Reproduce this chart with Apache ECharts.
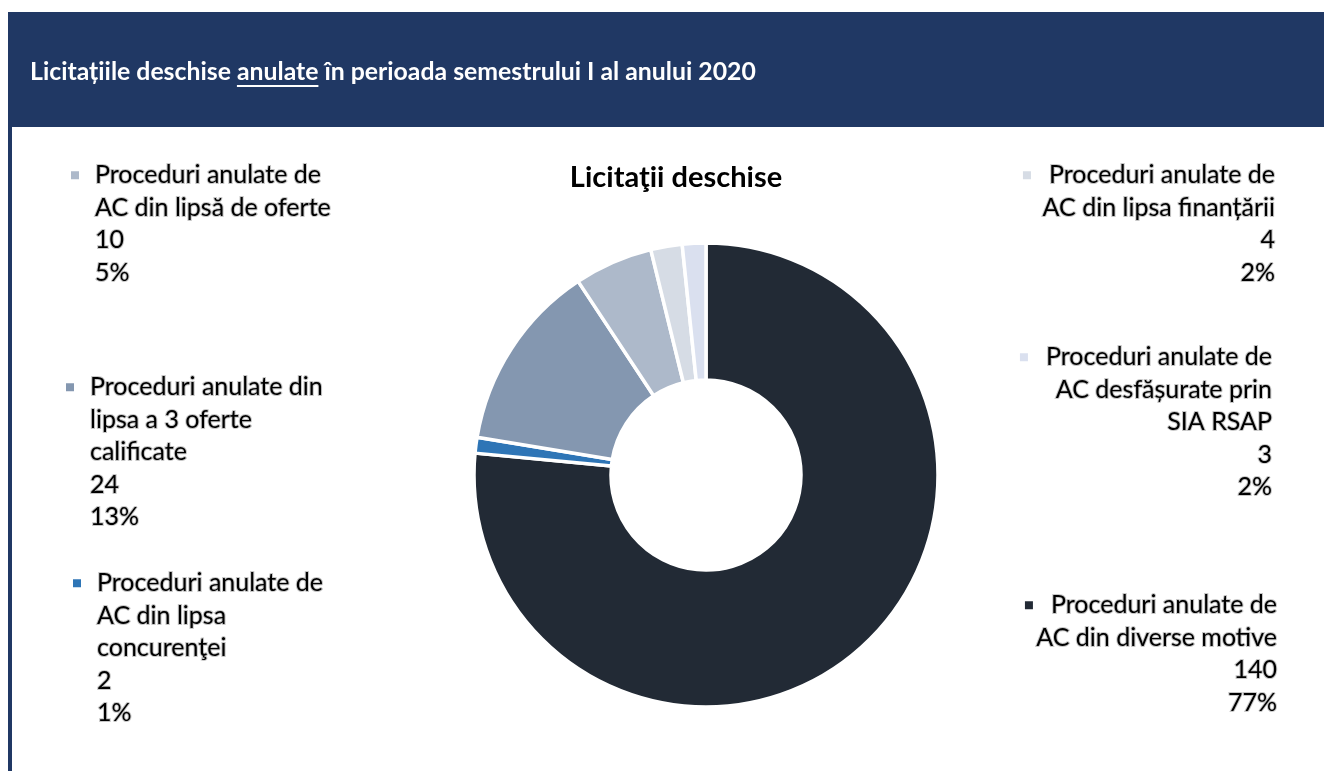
<!DOCTYPE html>
<html>
<head>
<meta charset="utf-8">
<script src="https://cdn.jsdelivr.net/npm/echarts@6/dist/echarts.min.js"></script>
<style>
html,body{margin:0;padding:0;background:#fff;}
#main{width:1324px;height:771px;}
</style>
</head>
<body>
<div id="main"></div>
<script>
// ---- data ----
var headerParts = ['Licitațiile deschise ', 'anulate', ' în perioada semestrului I al anului 2020'];
var chartTitle = 'Licitaţii deschise';
var categories = [
  'Proceduri anulate de\nAC din diverse motive',
  'Proceduri anulate de\nAC din lipsa\nconcurenţei',
  'Proceduri anulate din\nlipsa a 3 oferte\ncalificate',
  'Proceduri anulate de\nAC din lipsă de oferte',
  'Proceduri anulate de\nAC din lipsa finanțării',
  'Proceduri anulate de\nAC desfășurate prin\nSIA RSAP'
];
var values = [140, 2, 24, 10, 4, 3];
var colors = ['#222a35', '#2e75b6', '#8497b0', '#adb9ca', '#d6dce5', '#dae0ef'];

// ---- layout (label positions) ----
var labelPos = [
  {x: 1277, y: 589, side: 'right'},
  {x: 73,   y: 567, side: 'left'},
  {x: 66,   y: 371, side: 'left'},
  {x: 71,   y: 159, side: 'left'},
  {x: 1275, y: 159, side: 'right'},
  {x: 1272, y: 341, side: 'right'}
];

var FONT = 'Lato';
var LABEL_SIZE = 25;
var LH = 32.5;
var total = values.reduce(function(a, b){ return a + b; }, 0);

var chart = echarts.init(document.getElementById('main'));

var halo = {textBorderColor: 'rgba(180,180,180,0.75)', textBorderWidth: 2};

function richFor(i) {
  var base = {fontFamily: FONT, fontSize: LABEL_SIZE, color: '#000', lineHeight: LH};
  Object.assign(base, halo);
  var r = {};
  r.sq = {width: 8, height: 8, backgroundColor: colors[i], align: 'left', verticalAlign: 'middle', lineHeight: LH};
  if (labelPos[i].side === 'left') {
    r.f = Object.assign({}, base, {padding: [0, 0, 0, 16], align: 'left'});
    r.t = Object.assign({}, base, {padding: [0, 0, 0, 24], align: 'left'});
  } else {
    r.f = Object.assign({}, base, {padding: [0, 0, 0, 18], align: 'right'});
    r.t = Object.assign({}, base, {align: 'right'});
  }
  return r;
}

var data = values.map(function(v, i) {
  return {
    name: categories[i],
    value: v,
    itemStyle: {color: colors[i]},
    label: {rich: richFor(i)}
  };
});

// measure header for underline
var hdrFont = 'bold 24.8px ' + FONT;
var mctx = document.createElement('canvas').getContext('2d');

function buildOption() {
  mctx.font = hdrFont;
  var w0 = mctx.measureText(headerParts[0]).width;
  var w1 = mctx.measureText(headerParts[1]).width;
  var hx = 30, hy = 72;
  return {
    backgroundColor: '#fff',
    title: {
      text: chartTitle,
      left: 671, top: 158, textAlign: 'center',
      textStyle: {fontFamily: FONT, fontSize: 29, fontWeight: 'bold', color: '#000'}
    },
    graphic: [
      {type: 'rect', shape: {x: 8, y: 12, width: 1316, height: 115}, style: {fill: '#203864'}, silent: true},
      {type: 'rect', shape: {x: 8, y: 12, width: 4, height: 759}, style: {fill: '#203864'}, silent: true},
      {type: 'text', x: hx, y: hy, style: {text: headerParts.join(''), font: hdrFont, fill: '#fff', verticalAlign: 'middle', textAlign: 'left'}, silent: true},
      {type: 'rect', shape: {x: hx + w0, y: hy + 13, width: w1, height: 2}, style: {fill: '#fff'}, silent: true}
    ],
    series: [{
      type: 'pie',
      center: [706, 475],
      radius: [95, 232],
      startAngle: 90,
      clockwise: true,
      avoidLabelOverlap: false,
      itemStyle: {borderColor: '#fff', borderWidth: 3.5},
      label: {
        show: true,
        position: 'outside',
        formatter: function(p) {
          var lines = p.name.split('\n');
          lines.push(String(p.value));
          lines.push(Math.round(p.value / total * 100) + '%');
          return lines.map(function(l, k) {
            return k === 0 ? '{sq|}{f|' + l + '}' : '{t|' + l + '}';
          }).join('\n');
        }
      },
      labelLine: {show: false},
      labelLayout: function(p) {
        var pos = labelPos[p.dataIndex];
        return {x: pos.x, y: pos.y, align: pos.side === 'left' ? 'left' : 'right', verticalAlign: 'top', moveOverlap: false, hideOverlap: false};
      },
      emphasis: {disabled: true},
      animation: false,
      data: data
    }],
    animation: false
  };
}

chart.setOption(buildOption());
if (document.fonts && document.fonts.ready) {
  document.fonts.load(hdrFont).then(function(){ chart.setOption(buildOption()); });
}
</script>
</body>
</html>
